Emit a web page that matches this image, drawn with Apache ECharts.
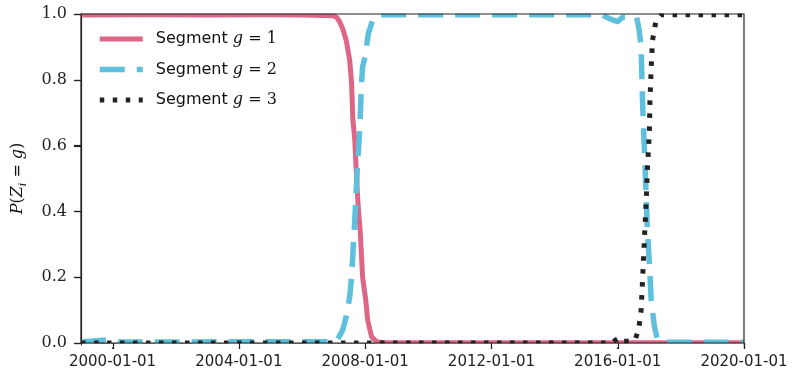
<!DOCTYPE html>
<html>
<head>
<meta charset="utf-8">
<script src="https://cdn.jsdelivr.net/npm/echarts@6/dist/echarts.min.js"></script>
<style>
html,body{margin:0;padding:0;background:#fff;}
#chart{width:792px;height:374px;}
</style>
</head>
<body>
<div id="chart"></div>
<script>
// ---- data (x as decimal years, y as probability) ----
const seriesNames = ['Segment g = 1', 'Segment g = 2', 'Segment g = 3'];
const xTickYears = [2000, 2004, 2008, 2012, 2016, 2020];
const yTicks = [0.0, 0.2, 0.4, 0.6, 0.8, 1.0];

const seg1 = [[1999.0,0.997],[2001.0,0.998],[2003.0,0.997],[2005.0,0.998],[2006.0,0.997],[2006.97,0.995],[2007.1,0.99],[2007.2,0.975],[2007.29,0.955],[2007.4,0.92],[2007.51,0.86],[2007.57,0.79],[2007.61,0.68],[2007.67,0.62],[2007.72,0.52],[2007.77,0.43],[2007.85,0.33],[2007.92,0.2],[2008.02,0.13],[2008.08,0.07],[2008.2,0.02],[2008.36,0.004],[2008.6,0.001],[2020.0,0.001]];

const seg2 = [[1999.0,0.003],[1999.9,0.01],[2000.2,0.003],[2007.09,0.004],[2007.29,0.04],[2007.4,0.08],[2007.51,0.14],[2007.57,0.2],[2007.61,0.27],[2007.67,0.37],[2007.72,0.47],[2007.77,0.56],[2007.83,0.65],[2007.88,0.78],[2007.92,0.84],[2008.0,0.87],[2008.1,0.94],[2008.25,0.985],[2008.45,0.998],[2015.5,0.998],[2015.75,0.985],[2016.0,0.977],[2016.15,0.99],[2016.6,0.99],[2016.68,0.95],[2016.74,0.9],[2016.78,0.75],[2016.82,0.64],[2016.86,0.55],[2016.9,0.44],[2016.94,0.34],[2017.0,0.24],[2017.06,0.13],[2017.16,0.05],[2017.26,0.01],[2017.45,0.002],[2020.0,0.002]];

const seg3 = [[1999.0,0.0],[2015.8,0.0],[2015.95,0.01],[2016.05,0.015],[2016.15,0.005],[2016.4,0.005],[2016.55,0.01],[2016.66,0.04],[2016.74,0.1],[2016.78,0.18],[2016.85,0.33],[2016.9,0.43],[2016.94,0.53],[2017.0,0.64],[2017.02,0.74],[2017.06,0.84],[2017.1,0.92],[2017.21,0.98],[2017.37,0.998],[2020.0,0.998]];

const xMinYear = 1999, xMaxYear = 2020;

// ---- helpers ----
function toTs(y) {
  const Y = Math.floor(y);
  const a = Date.UTC(Y, 0, 1), b = Date.UTC(Y + 1, 0, 1);
  return a + (y - Y) * (b - a);
}
const conv = arr => arr.map(p => [toTs(p[0]), p[1]]);

const G = {left: 81, right: 48, top: 14, bottom: 31};
const W = 792, H = 374;
const axisColor = '#222';
const colors = ['#dd6686', '#5ec0dd', '#222222'];
const widths = [5, 5.5, 5];
const dashes = ['solid', [25, 12], [4.5, 8.5]];

const chart = echarts.init(document.getElementById('chart'), null, {renderer: 'canvas'});

const option = {
  animation: false,
  backgroundColor: '#fff',
  grid: {left: G.left, right: G.right, top: G.top, bottom: G.bottom, containLabel: false, z: 10,
         show: true, borderColor: axisColor, borderWidth: 1.2, backgroundColor: 'transparent'},
  legend: {
    left: 97, top: 31, orient: 'vertical', padding: 0,
    itemWidth: 43, itemHeight: 14, itemGap: 14.5,
    data: seriesNames.map((n, i) => ({
      name: n,
      itemStyle: {opacity: 0},
      lineStyle: {color: colors[i], width: widths[i], type: dashes[i], cap: 'butt'}
    })),
    formatter: function (name) {
      const n = name.slice(-1);
      return '{s|Segment }{i|g}{m| = ' + n + '}';
    },
    textStyle: {
      padding: [0, 0, 0, 8],
      rich: {
        s: {fontFamily: 'DejaVu Sans', fontSize: 16, color: '#111', lineHeight: 18},
        i: {fontFamily: 'DejaVu Serif', fontStyle: 'italic', fontSize: 16, color: '#111', lineHeight: 18},
        m: {fontFamily: 'DejaVu Serif', fontSize: 16, color: '#111', lineHeight: 18}
      }
    }
  },
  xAxis: {
    type: 'value',
    min: toTs(xMinYear), max: toTs(xMaxYear),
    splitLine: {show: false},
    axisLine: {show: true, onZero: false, lineStyle: {color: axisColor, width: 1.2}},
    axisTick: {show: true, length: 6, lineStyle: {color: axisColor, width: 1.2}, customValues: xTickYears.map(toTs)},
    axisLabel: {
      customValues: xTickYears.map(toTs),
      margin: 12,
      fontFamily: 'DejaVu Sans', fontSize: 15, color: '#222',
      formatter: v => new Date(v).toISOString().slice(0, 10)
    }
  },
  yAxis: {
    type: 'value', min: 0, max: 1, interval: 0.2,
    splitLine: {show: false},
    axisLine: {show: true, onZero: false, lineStyle: {color: axisColor, width: 1.2}},
    axisTick: {show: true, length: 7, lineStyle: {color: axisColor, width: 1.2}},
    axisLabel: {
      margin: 14, fontFamily: 'DejaVu Serif', fontSize: 16, color: '#222',
      formatter: v => (Math.round(v * 10) / 10).toFixed(1)
    },
    name: '{i|P}{r|(}{i|Z}{sub|i}{r| = }{i|g}{r|)}',
    nameLocation: 'middle', nameGap: 52,
    nameTextStyle: {
      rich: {
        i: {fontFamily: 'DejaVu Serif', fontStyle: 'italic', fontSize: 16, color: '#111', lineHeight: 22},
        r: {fontFamily: 'DejaVu Serif', fontSize: 16, color: '#111', lineHeight: 22},
        sub: {fontFamily: 'DejaVu Serif', fontStyle: 'italic', fontSize: 11, color: '#111', lineHeight: 12, verticalAlign: 'bottom'}
      }
    }
  },
  series: seriesNames.map((n, i) => ({
    type: 'line', name: n, showSymbol: false, symbol: 'none', animation: false, z: 2,
    data: conv([seg1, seg2, seg3][i]), color: colors[i],
    lineStyle: {color: colors[i], width: widths[i], type: dashes[i], cap: 'butt', join: 'round'}
  }))
};
chart.setOption(option);

// tick marks and the matplotlib-like clipping of line halves outside the axes,
// positioned through the chart's own scales
const x0 = chart.convertToPixel({xAxisIndex: 0}, toTs(xMinYear));
const x1 = chart.convertToPixel({xAxisIndex: 0}, toTs(xMaxYear));
const y0 = chart.convertToPixel({yAxisIndex: 0}, 0);
const y1 = chart.convertToPixel({yAxisIndex: 0}, 1);
const extras = [
  {type: 'rect', z: 5, silent: true, shape: {x: x0 + 1, y: y0 + 0.6, width: x1 - x0 - 2, height: 4}, style: {fill: '#fff'}},
  {type: 'rect', z: 5, silent: true, shape: {x: x0 + 1, y: y1 - 4.6, width: x1 - x0 - 2, height: 4}, style: {fill: '#fff'}}
];
xTickYears.forEach(yr => {
  const px = Math.round(chart.convertToPixel({xAxisIndex: 0}, toTs(yr))) + 0.5;
  extras.push({type: 'line', z: 20, silent: true, shape: {x1: px, y1: y0, x2: px, y2: y0 + 6},
               style: {stroke: axisColor, lineWidth: 1.2}});
});
yTicks.forEach(v => {
  const py = Math.round(chart.convertToPixel({yAxisIndex: 0}, v)) + 0.5;
  extras.push({type: 'line', z: 20, silent: true, shape: {x1: x0 - 7, y1: py, x2: x0, y2: py},
               style: {stroke: axisColor, lineWidth: 1.2}});
});
chart.setOption({graphic: extras});
</script>
</body>
</html>
